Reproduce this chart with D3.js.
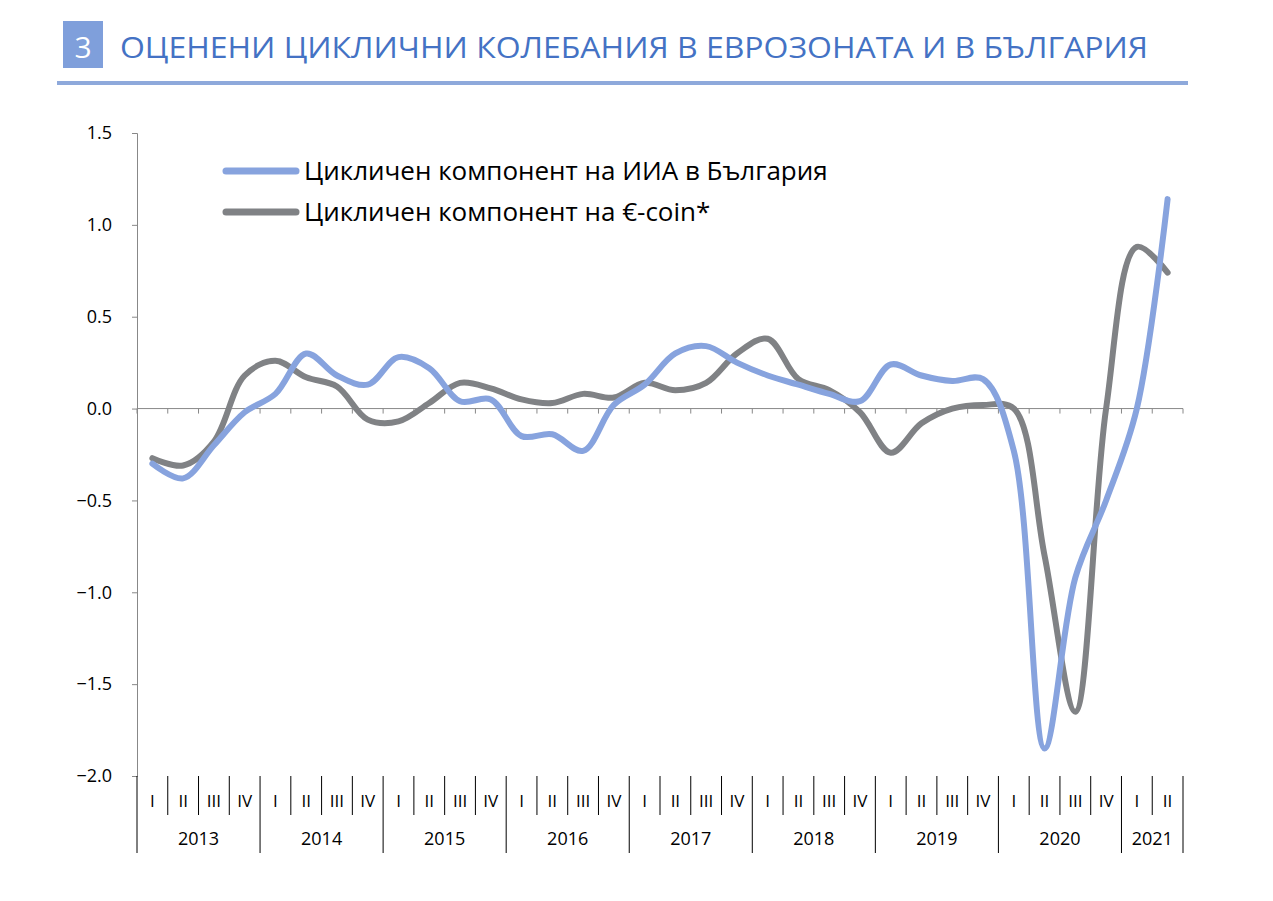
<!DOCTYPE html>
<html>
<head>
<meta charset="utf-8">
<style>
  body { margin: 0; background: #fff; }
  text { font-family: "Open Sans", "Noto Sans", sans-serif; }
</style>
<script src="https://d3js.org/d3.v7.min.js"></script>
</head>
<body>
<svg id="chart" width="1273" height="901"></svg>
<script>
// data
var years = ["2013", "2014", "2015", "2016", "2017", "2018", "2019", "2020", "2021"];
var quarterNames = ["I", "II", "III", "IV"];
var bulgaria = [-0.30, -0.38, -0.20, -0.02, 0.08, 0.30, 0.18, 0.13, 0.28, 0.22, 0.04, 0.05,
  -0.15, -0.14, -0.23, 0.02, 0.13, 0.30, 0.34, 0.25, 0.18, 0.13, 0.08, 0.04,
  0.24, 0.18, 0.15, 0.16, -0.23, -1.85, -0.92, -0.50, 0.00, 1.14];
var eurocoin = [-0.27, -0.31, -0.18, 0.18, 0.26, 0.17, 0.12, -0.06, -0.07, 0.03, 0.14, 0.11,
  0.05, 0.03, 0.08, 0.06, 0.14, 0.10, 0.14, 0.30, 0.38, 0.16, 0.10, -0.02,
  -0.24, -0.08, 0.00, 0.02, 0.00, -0.80, -1.65, 0.00, 0.88, 0.74];
var yTicks = [1.5, 1.0, 0.5, 0.0, -0.5, -1.0, -1.5, -2.0];

var quarters = [];
years.forEach(function(y) {
  var n = y === "2021" ? 2 : 4;
  for (var i = 0; i < n; i++) quarters.push({year: y, q: quarterNames[i], key: y + "-" + i});
});

var svg = d3.select("#chart");
var plotLeft = 137, plotRight = 1183, plotTop = 133, plotBottom = 776;

var x = d3.scaleBand().domain(quarters.map(d => d.key)).range([plotLeft, plotRight]);
var y = d3.scaleLinear().domain([-2, 1.5]).range([plotBottom, plotTop]);

// title
svg.append("rect").attr("x", 63).attr("y", 21).attr("width", 40).attr("height", 47).attr("fill", "#7F9FDB");
svg.append("text").attr("x", 83).attr("y", 58).attr("text-anchor", "middle")
  .attr("fill", "#fff").style("font-size", "30px").text("3");
svg.append("text").attr("x", 120).attr("y", 58).attr("fill", "#4472C4")
  .style("font-size", "29px").attr("textLength", 1028).attr("lengthAdjust", "spacingAndGlyphs")
  .text("ОЦЕНЕНИ ЦИКЛИЧНИ КОЛЕБАНИЯ В ЕВРОЗОНАТА И В БЪЛГАРИЯ");
svg.append("line").attr("x1", 57).attr("x2", 1188).attr("y1", 83).attr("y2", 83)
  .attr("stroke", "#8EA9DB").attr("stroke-width", 4);

// y axis
var yAxis = svg.append("g").attr("transform", "translate(" + plotLeft + ",0)")
  .call(d3.axisLeft(y).tickValues(yTicks).tickFormat(d3.format(".1f")).tickSize(5).tickPadding(20));
yAxis.selectAll("text").style("font-size", "18px").attr("fill", "#000");
yAxis.selectAll("path,line").attr("stroke", "#888");

// zero line with quarter ticks
svg.append("line").attr("x1", plotLeft).attr("x2", plotRight).attr("y1", y(0)).attr("y2", y(0)).attr("stroke", "#888");
svg.selectAll(".zt").data(quarters).join("line")
  .attr("x1", d => x(d.key)).attr("x2", d => x(d.key))
  .attr("y1", y(0)).attr("y2", y(0) + 5).attr("stroke", "#888");
svg.append("line").attr("x1", plotRight).attr("x2", plotRight).attr("y1", y(0)).attr("y2", y(0) + 5).attr("stroke", "#888");

// category labels
svg.selectAll(".qsep").data(quarters).join("line")
  .attr("x1", d => x(d.key)).attr("x2", d => x(d.key))
  .attr("y1", plotBottom).attr("y2", d => d.q === "I" ? 853 : 815).attr("stroke", "#000");
svg.append("line").attr("x1", plotRight).attr("x2", plotRight).attr("y1", plotBottom).attr("y2", 853).attr("stroke", "#000");
svg.selectAll(".ql").data(quarters).join("text")
  .attr("x", d => x(d.key) + x.bandwidth() / 2).attr("y", 807).attr("text-anchor", "middle")
  .style("font-size", "17px").text(d => d.q);
svg.selectAll(".yl").data(years).join("text")
  .attr("x", function(yr) {
    var qs = quarters.filter(d => d.year === yr);
    return (x(qs[0].key) + x(qs[qs.length - 1].key) + x.bandwidth()) / 2;
  })
  .attr("y", 845).attr("text-anchor", "middle").style("font-size", "18px").text(d => d);

// lines
var line = d3.line().x((d, i) => x(quarters[i].key) + x.bandwidth() / 2).y(d => y(d))
  .curve(d3.curveCatmullRom.alpha(0.5));
svg.append("path").datum(eurocoin).attr("d", line).attr("fill", "none")
  .attr("stroke", "#808285").attr("stroke-width", 6).attr("stroke-linecap", "round");
svg.append("path").datum(bulgaria).attr("d", line).attr("fill", "none")
  .attr("stroke", "#87A3DE").attr("stroke-width", 6).attr("stroke-linecap", "round");

// legend
var legend = [["Цикличен компонент на ИИА в България", "#87A3DE"], ["Цикличен компонент на €-coin*", "#808285"]];
legend.forEach(function(l, i) {
  var ly = 171 + i * 41;
  svg.append("line").attr("x1", 226).attr("x2", 296).attr("y1", ly).attr("y2", ly)
    .attr("stroke", l[1]).attr("stroke-width", 7).attr("stroke-linecap", "round");
  svg.append("text").attr("x", 304).attr("y", ly + 9).style("font-size", "26px").text(l[0]);
});
</script>
</body>
</html>
